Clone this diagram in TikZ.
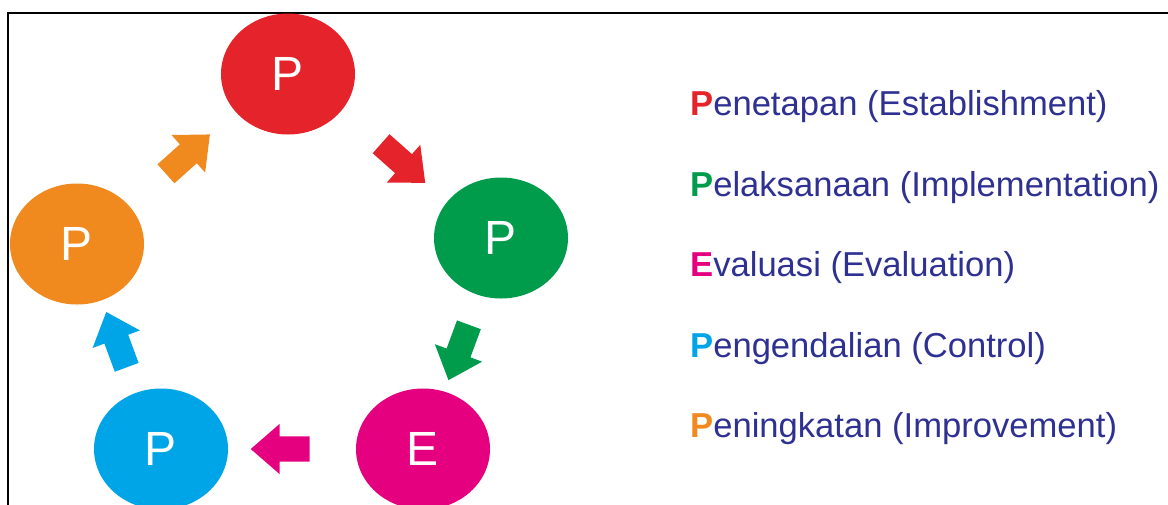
\documentclass[tikz,border=0pt]{standalone}
\usepackage{fontspec}
\setmainfont{Liberation Sans}
\usetikzlibrary{shapes.geometric,shapes.arrows}
\definecolor{cred}{HTML}{E5232B}
\definecolor{cgreen}{HTML}{009C4C}
\definecolor{cmag}{HTML}{E4007F}
\definecolor{cblue}{HTML}{00A5E8}
\definecolor{corange}{HTML}{F08A1E}
\definecolor{cnavy}{HTML}{2E3192}
\tikzset{
  stage/.style={ellipse, minimum width=134pt, minimum height=121pt, inner sep=0pt,
    text=white, font=\fontsize{48}{50}\selectfont},
  blockarrow/.style={single arrow, draw=none, sloped, minimum height=59pt,
    inner xsep=0pt, inner ysep=12.5pt, single arrow head extend=12.5pt,
    single arrow tip angle=82, single arrow head indent=0pt},
  legend/.style={anchor=base west, inner sep=0pt, text=cnavy,
    font=\fontsize{34.6}{40}\selectfont},
}
\begin{document}
\begin{tikzpicture}[x=1pt,y=-1pt]
\useasboundingbox (0,0) rectangle (1168,504);
\clip (0,0) rectangle (1168,504);
\draw[line width=2.6pt] (1200,13) -- (8,13) -- (8,540);
% stages
\node[stage, fill=cred]    (pen) at (288,74)  {P};
\node[stage, fill=cgreen]  (pel) at (501,238) {P};
\node[stage, fill=cmag]    (eva) at (423,449) {E};
\node[stage, fill=cblue]   (pgd) at (161,449) {P};
\node[stage, fill=corange] (pgk) at (77,244)  {P};
% arrows
\path[allow upside down] (pen.center) -- node[blockarrow, fill=cred, pos=0.515, rotate=-4] {} (pel.center);
\path[allow upside down] (pel.center) -- node[blockarrow, fill=cgreen, pos=0.51] {} (eva.center);
\path[allow upside down] (eva.center) -- node[blockarrow, fill=cmag, pos=0.517] {} (pgd.center);
\path[allow upside down] (pgd.center) -- node[blockarrow, fill=cblue, pos=0.5, rotate=-2] {} (pgk.center);
\path[allow upside down] (pgk.center) -- node[blockarrow, fill=corange, pos=0.5, rotate=3] {} (pen.center);
% legend
\node[legend] (l1) at (690,115) {\textcolor{cred}{\bfseries P}enetapan (Establishment)};
\node[legend] (l2) at (690,196) {\textcolor{cgreen}{\bfseries P}elaksanaan (Implementation)};
\node[legend] (l3) at (690,276) {\textcolor{cmag}{\bfseries E}valuasi (Evaluation)};
\node[legend] (l4) at (690,357) {\textcolor{cblue}{\bfseries P}engendalian (Control)};
\node[legend] (l5) at (690,437) {\textcolor{corange}{\bfseries P}eningkatan (Improvement)};
\end{tikzpicture}
\end{document}
